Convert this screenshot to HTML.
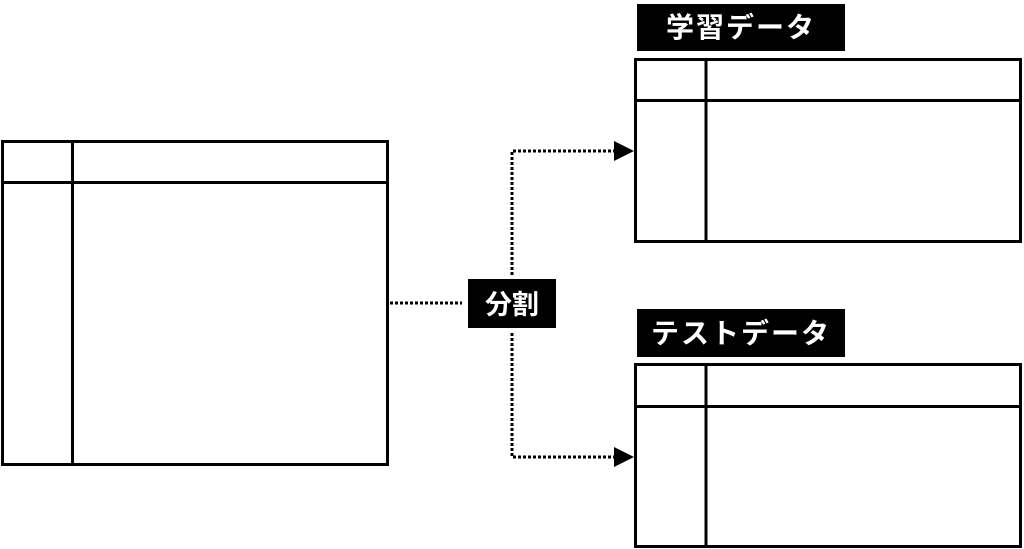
<!DOCTYPE html>
<html><head><meta charset="utf-8"><style>
html,body{margin:0;padding:0;background:#fff;width:1024px;height:549px;overflow:hidden}
svg{display:block}
text{font-family:"Liberation Sans","Noto Sans CJK JP",sans-serif;font-weight:bold;fill:#fff}
</style></head><body>
<svg width="1024" height="549" viewBox="0 0 1024 549" xmlns="http://www.w3.org/2000/svg">
<g fill="none" stroke="#000" stroke-width="3">
  <rect x="2.5" y="141.5" width="385" height="323"/>
  <line x1="2" y1="182.5" x2="388" y2="182.5"/>
  <line x1="72.5" y1="141" x2="72.5" y2="465"/>
  <rect x="635.5" y="59.5" width="385" height="182"/>
  <line x1="635" y1="100.5" x2="1021" y2="100.5"/>
  <line x1="706" y1="59" x2="706" y2="242"/>
  <rect x="635.5" y="364.5" width="385" height="182"/>
  <line x1="635" y1="406.5" x2="1021" y2="406.5"/>
  <line x1="706" y1="364" x2="706" y2="547"/>
</g>
<g fill="none" stroke="#000" stroke-width="3" stroke-dasharray="3 2">
  <line x1="390" y1="303" x2="462" y2="303"/>
  <polyline points="512,275 512,151 614,151"/>
  <polyline points="512,333 512,457 614,457"/>
</g>
<polygon points="614,141 634,151 614,161" fill="#000"/>
<polygon points="614,447 634,457 614,467" fill="#000"/>
<rect x="468" y="279" width="88" height="49" fill="#000"/>
<text x="512" y="314" font-size="27" text-anchor="middle">分割</text>
<rect x="637" y="4" width="208" height="47" fill="#000"/>
<text x="741" y="37" font-size="28" text-anchor="middle" letter-spacing="2">学習データ</text>
<rect x="637" y="309" width="208" height="48" fill="#000"/>
<text x="741" y="343" font-size="28" text-anchor="middle" letter-spacing="2">テストデータ</text>
</svg>
</body></html>
